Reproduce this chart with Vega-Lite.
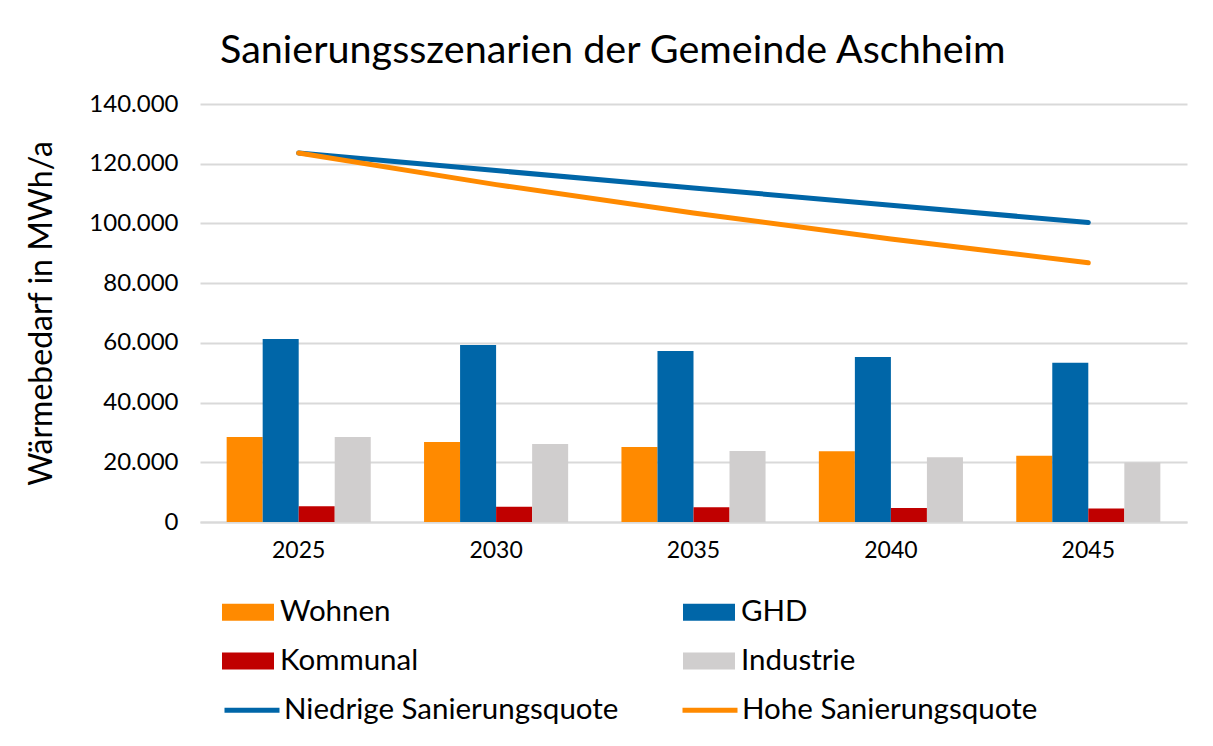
{
  "$schema": "https://vega.github.io/schema/vega-lite/v6.json",
  "width": 987,
  "height": 418,
  "autosize": {"type": "none"},
  "padding": {"left": 200, "top": 104, "right": 26, "bottom": 224},
  "background": "white",
  "config": {
    "view": {"stroke": null},
    "font": "Lato",
    "axis": {"labelColor": "#000000", "titleColor": "#000000", "labelFont": "Lato", "titleFont": "Lato"},
    "legend": {"labelColor": "#000000", "labelFont": "Lato"}
  },
  "title": {
    "text": "Sanierungsszenarien der Gemeinde Aschheim",
    "anchor": "start",
    "frame": "group",
    "dx": 20,
    "offset": 21,
    "fontSize": 39.5,
    "fontWeight": "normal",
    "color": "#000000"
  },
  "datasets": {
    "bars": [
      {"year": "2025", "cat": "Wohnen", "value": 28500},
      {"year": "2025", "cat": "GHD", "value": 61300},
      {"year": "2025", "cat": "Kommunal", "value": 5300},
      {"year": "2025", "cat": "Industrie", "value": 28500},
      {"year": "2030", "cat": "Wohnen", "value": 26800},
      {"year": "2030", "cat": "GHD", "value": 59300},
      {"year": "2030", "cat": "Kommunal", "value": 5100},
      {"year": "2030", "cat": "Industrie", "value": 26100},
      {"year": "2035", "cat": "Wohnen", "value": 25100},
      {"year": "2035", "cat": "GHD", "value": 57300},
      {"year": "2035", "cat": "Kommunal", "value": 4900},
      {"year": "2035", "cat": "Industrie", "value": 23800},
      {"year": "2040", "cat": "Wohnen", "value": 23700},
      {"year": "2040", "cat": "GHD", "value": 55300},
      {"year": "2040", "cat": "Kommunal", "value": 4700},
      {"year": "2040", "cat": "Industrie", "value": 21700},
      {"year": "2045", "cat": "Wohnen", "value": 22200},
      {"year": "2045", "cat": "GHD", "value": 53300},
      {"year": "2045", "cat": "Kommunal", "value": 4500},
      {"year": "2045", "cat": "Industrie", "value": 19900}
    ],
    "lines": [
      {"year": "2025", "scenario": "Niedrige Sanierungsquote", "value": 123600},
      {"year": "2030", "scenario": "Niedrige Sanierungsquote", "value": 117700},
      {"year": "2035", "scenario": "Niedrige Sanierungsquote", "value": 111900},
      {"year": "2040", "scenario": "Niedrige Sanierungsquote", "value": 106100},
      {"year": "2045", "scenario": "Niedrige Sanierungsquote", "value": 100300},
      {"year": "2025", "scenario": "Hohe Sanierungsquote", "value": 123600},
      {"year": "2030", "scenario": "Hohe Sanierungsquote", "value": 113000},
      {"year": "2035", "scenario": "Hohe Sanierungsquote", "value": 103500},
      {"year": "2040", "scenario": "Hohe Sanierungsquote", "value": 94800},
      {"year": "2045", "scenario": "Hohe Sanierungsquote", "value": 86800}
    ]
  },
  "encoding": {
    "x": {
      "field": "year",
      "type": "ordinal",
      "scale": {"paddingInner": 0.27, "paddingOuter": 0.135},
      "axis": {
        "title": null,
        "labelAngle": 0,
        "labelFontSize": 23,
        "labelPadding": 17,
        "ticks": false,
        "domainColor": "#D9D9D9",
        "domainWidth": 2
      }
    },
    "y": {
      "field": "value",
      "type": "quantitative",
      "scale": {"domain": [0, 140000], "nice": false},
      "axis": {
        "title": "Wärmebedarf in MWh/a",
        "titleFontSize": 32,
        "titleFontWeight": "normal",
        "titlePadding": 30,
        "values": [0, 20000, 40000, 60000, 80000, 100000, 120000, 140000],
        "labelExpr": "replace(format(datum.value, ','), ',', '.')",
        "labelFontSize": 24,
        "labelPadding": 22,
        "ticks": false,
        "domain": false,
        "gridColor": "#D9D9D9",
        "gridWidth": 2
      }
    }
  },
  "layer": [
    {
      "data": {"name": "bars"},
      "mark": {"type": "bar"},
      "encoding": {
        "xOffset": {"field": "cat", "type": "nominal", "sort": ["Wohnen", "GHD", "Kommunal", "Industrie"], "scale": {"paddingInner": 0, "paddingOuter": 0}},
        "color": {
          "field": "cat",
          "type": "nominal",
          "scale": {
            "domain": ["Wohnen", "GHD", "Kommunal", "Industrie"],
            "range": ["#FF8A00", "#0066A8", "#C00000", "#D0CECE"]
          },
          "legend": {
            "title": null,
            "orient": "none",
            "direction": "horizontal",
            "legendX": 22,
            "legendY": 482,
            "columns": 2,
            "columnPadding": 264,
            "rowPadding": 8,
            "labelFontSize": 29.5,
            "labelOffset": 6,
            "labelLimit": 600,
            "symbolType": "M-1,-0.327H1V0.327H-1Z",
            "symbolSize": 2704,
            "symbolStrokeWidth": 0,
            "symbolOpacity": 1
          }
        }
      }
    },
    {
      "data": {"name": "lines"},
      "mark": {"type": "line", "strokeWidth": 5, "strokeCap": "round"},
      "encoding": {
        "stroke": {
          "field": "scenario",
          "type": "nominal",
          "scale": {
            "domain": ["Niedrige Sanierungsquote", "Hohe Sanierungsquote"],
            "range": ["#0066A8", "#FF8A00"]
          },
          "legend": {
            "title": null,
            "orient": "none",
            "direction": "horizontal",
            "legendX": 22,
            "legendY": 576,
            "columns": 2,
            "columnPadding": 53,
            "labelFontSize": 29.5,
            "labelOffset": 2,
            "labelLimit": 600,
            "symbolType": "stroke",
            "symbolSize": 3025,
            "symbolStrokeWidth": 5
          }
        }
      }
    }
  ]
}
